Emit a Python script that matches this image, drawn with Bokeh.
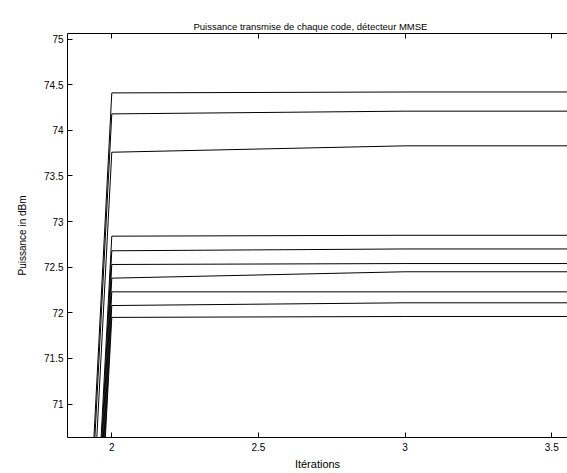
from bokeh.plotting import figure
from bokeh.models import LinearAxis, FixedTicker, Range1d
from bokeh.embed import file_html
from bokeh.resources import INLINE

# ---- data ----
iterations = [1, 2, 3, 4]
code_1 = [12.4, 74.41, 74.42, 74.42]
code_2 = [12.6, 74.18, 74.21, 74.21]
code_3 = [12.5, 73.76, 73.83, 73.83]
code_4 = [12.3, 72.84, 72.85, 72.85]
code_5 = [12.2, 72.68, 72.70, 72.70]
code_6 = [12.4, 72.53, 72.54, 72.54]
code_7 = [12.1, 72.38, 72.45, 72.45]
code_8 = [12.3, 72.23, 72.23, 72.23]
code_9 = [12.0, 72.08, 72.11, 72.11]
code_10 = [12.2, 71.95, 71.96, 71.96]
series = [code_1, code_2, code_3, code_4, code_5, code_6, code_7, code_8, code_9, code_10]

x_tick_values = [2, 2.5, 3, 3.5]
x_tick_labels = ["2", "2.5", "3", "3.5"]
y_tick_values = [71, 71.5, 72, 72.5, 73, 73.5, 74, 74.5, 75]
y_tick_labels = ["71", "71.5", "72", "72.5", "73", "73.5", "74", "74.5", "75"]

title_text = "Puissance transmise de chaque code, détecteur MMSE"
x_title = "Itérations"
y_title = "Puissance in dBm"

FONT = "Liberation Sans"

p = figure(width=567, height=473, output_backend="svg", toolbar_location=None,
           x_range=Range1d(1.849, 3.5537), y_range=Range1d(70.634, 75.061),
           title=title_text, x_axis_location=None, y_axis_location=None,
           min_border_left=67, min_border_right=0, min_border_top=33, min_border_bottom=36)
p.outline_line_color = None
p.xgrid.visible = False
p.ygrid.visible = False
p.background_fill_color = "white"
p.border_fill_color = "white"

p.title.text_font = FONT
p.title.text_font_size = "9.5px"
p.title.text_font_style = "normal"
p.title.text_color = "black"
p.title.align = "left"
p.title.offset = 126
p.title.standoff = 3

for s in series:
    p.line(iterations, s, line_color="black", line_width=1)

def style_axis(ax, ticks, labels, show_labels=True):
    ax.ticker = FixedTicker(ticks=ticks)
    ax.major_label_overrides = {t: l for t, l in zip(ticks, labels)}
    ax.major_tick_in = 5
    ax.major_tick_out = 0
    ax.minor_tick_line_color = None
    ax.axis_line_color = "black"
    ax.axis_line_width = 1
    ax.major_tick_line_color = "black"
    ax.major_label_text_font = FONT
    ax.major_label_text_font_size = "10px"
    ax.major_label_text_color = "black" if show_labels else None
    ax.axis_label_text_font = FONT
    ax.axis_label_text_font_style = "normal"
    ax.axis_label_text_color = "black"

bottom = LinearAxis(axis_label=x_title)
style_axis(bottom, x_tick_values, x_tick_labels)
bottom.major_label_standoff = 5
bottom.axis_label_text_font_size = "11px"
bottom.axis_label_standoff = 4
p.add_layout(bottom, "below")

left = LinearAxis(axis_label=y_title)
style_axis(left, y_tick_values, y_tick_labels)
left.major_label_standoff = 4
left.axis_label_text_font_size = "10px"
left.axis_label_standoff = 13
p.add_layout(left, "left")

top = LinearAxis()
style_axis(top, x_tick_values, x_tick_labels, show_labels=False)
top.major_label_standoff = 0
top.major_label_text_font_size = "1px"
p.add_layout(top, "above")

open("out.html", "w").write(file_html(p, INLINE))
